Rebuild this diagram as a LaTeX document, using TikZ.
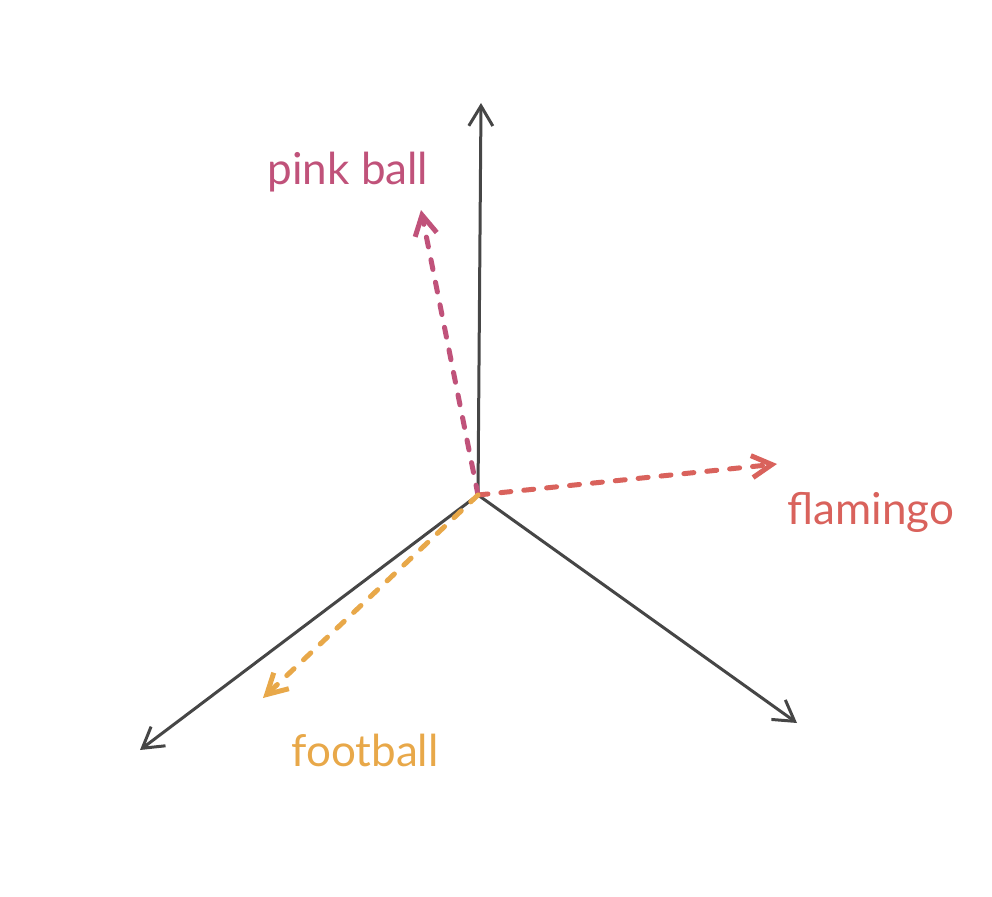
\documentclass[tikz,border=0pt]{standalone}
\usepackage{fontspec}
\setmainfont{Lato}
\usetikzlibrary{arrows.meta}
\definecolor{axisgray}{HTML}{464646}
\definecolor{pinkc}{HTML}{C0527A}
\definecolor{flamc}{HTML}{D9625C}
\definecolor{footc}{HTML}{E8A849}
\tikzset{
  axis/.style={draw=axisgray, line width=3pt, line cap=round,
    -{Straight Barb[length=20pt,width=24pt,line width=3pt]}},
  vec/.style={line width=5pt, line cap=round, dash pattern=on 10pt off 13pt,
    -{Straight Barb[length=20pt,width=22pt,line width=5pt]}},
  lbl/.style={font=\fontsize{44}{48}\selectfont, inner sep=0pt}
}
\begin{document}
\begin{tikzpicture}[x=1pt,y=-1pt]
\useasboundingbox (0,0) rectangle (992,896);
\coordinate (O) at (478,495);
\coordinate (up) at (481,103);
\coordinate (ld) at (140,750);
\coordinate (rd) at (797,723);
\coordinate (pb) at (421,210);
\coordinate (fl) at (777,464);
\coordinate (fb) at (263,698);
\draw[axis] (O) -- (up);
\draw[axis] (O) -- (ld);
\draw[axis] (O) -- (rd);
\draw[vec, pinkc] (O) -- (pb);
\draw[vec, flamc] (O) -- (fl);
\draw[vec, footc] (O) -- (fb);
\node[lbl, text=pinkc] (tpb) at (348,172) {pink ball};
\node[lbl, text=flamc] (tfl) at (871,512) {flamingo};
\node[lbl, text=footc] (tfb) at (365,750) {football};
\end{tikzpicture}
\end{document}
